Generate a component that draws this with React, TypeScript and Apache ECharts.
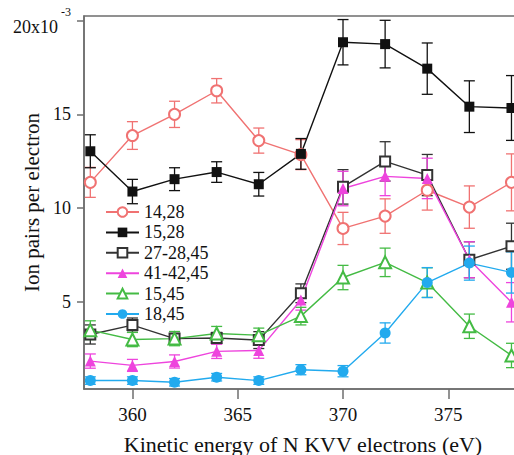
import React, { useEffect, useRef } from "react";
import * as echarts from "echarts";

const energies = [358, 360, 362, 364, 366, 368, 370, 372, 374, 376, 378];

const s14_28 = [11.37, 13.87, 15.0, 16.26, 13.6, 12.85, 8.91, 9.57, 10.95, 10.05, 11.37];
const e14_28 = [0.8, 0.74, 0.7, 0.65, 0.67, 0.8, 0.86, 0.92, 1.06, 1.13, 1.52];

const s15_28 = [13.03, 10.88, 11.54, 11.92, 11.27, 12.89, 18.85, 18.75, 17.44, 15.41, 15.34];
const e15_28 = [0.88, 0.65, 0.61, 0.55, 0.63, 0.82, 1.21, 1.27, 1.37, 1.38, 1.73];

const s27_28_45 = [3.25, 3.75, 3.03, 3.06, 2.95, 5.45, 11.13, 12.49, 11.76, 7.24, 7.96];
const e27_28_45 = [0.51, 0.38, 0.27, 0.3, 0.45, 0.5, 0.92, 1.05, 1.1, 0.96, 1.23];

const s41_42_45 = [1.83, 1.6, 1.81, 2.35, 2.4, 5.09, 11.04, 11.69, 11.58, 7.24, 4.97];
const e41_42_45 = [0.38, 0.32, 0.35, 0.38, 0.42, 0.54, 0.92, 1.03, 1.08, 0.96, 1.05];

const s15_45 = [3.48, 2.98, 3.03, 3.3, 3.21, 4.23, 6.29, 7.1, 6.02, 3.69, 2.13];
const e15_45 = [0.5, 0.38, 0.38, 0.38, 0.38, 0.47, 0.65, 0.76, 0.79, 0.65, 0.65];

const s18_45 = [0.79, 0.79, 0.7, 0.97, 0.79, 1.37, 1.29, 3.33, 6.02, 7.06, 6.56];
const e18_45 = [0.2, 0.2, 0.2, 0.2, 0.2, 0.27, 0.3, 0.54, 0.8, 0.91, 1.1];

const xTicks = [360, 365, 370, 375];
const yTicks = [5, 10, 15, 20];

const seriesDefs = [
  { name: "14,28", values: s14_28, errors: e14_28, color: "#f07272", symbol: "emptyCircle", size: 11 },
  { name: "15,28", values: s15_28, errors: e15_28, color: "#111111", symbol: "rect", size: 10 },
  { name: "27-28,45", values: s27_28_45, errors: e27_28_45, color: "#333333", symbol: "emptyRect", size: 10 },
  { name: "41-42,45", values: s41_42_45, errors: e41_42_45, color: "#ee44dd", symbol: "triangle", size: 11 },
  { name: "15,45", values: s15_45, errors: e15_45, color: "#44bb44", symbol: "emptyTriangle", size: 12 },
  { name: "18,45", values: s18_45, errors: e18_45, color: "#22aaee", symbol: "circle", size: 11 },
];

const FONT = "Liberation Serif";

export default function App() {
  const ref = useRef<HTMLDivElement>(null);
  useEffect(() => {
    if (!ref.current) return;
    const chart = echarts.init(ref.current, undefined, { renderer: "svg" });
    const lineSeries: any[] = seriesDefs.map((d) => ({
      type: "line",
      name: d.name,
      data: energies.map((x, i) => [x, d.values[i]]),
      symbol: d.symbol,
      symbolSize: d.size,
      lineStyle: { color: d.color, width: 1.4 },
      itemStyle: { color: d.color, borderWidth: 1.2 },
      z: 3,
    }));
    const errSeries: any[] = seriesDefs.map((d) => ({
      type: "custom",
      name: "err " + d.name,
      z: 2,
      data: energies.map((x, i) => [x, d.values[i] - d.errors[i], d.values[i] + d.errors[i]]),
      renderItem: (params: any, api: any) => {
        const lo = api.coord([api.value(0), api.value(1)]);
        const hi = api.coord([api.value(0), api.value(2)]);
        const w = 5.5;
        const st = { stroke: d.color, lineWidth: 1.3, fill: "none" };
        return {
          type: "group",
          children: [
            { type: "line", shape: { x1: lo[0], y1: lo[1], x2: hi[0], y2: hi[1] }, style: st },
            { type: "line", shape: { x1: lo[0] - w, y1: lo[1], x2: lo[0] + w, y2: lo[1] }, style: st },
            { type: "line", shape: { x1: hi[0] - w, y1: hi[1], x2: hi[0] + w, y2: hi[1] }, style: st },
          ],
        };
      },
    }));
    chart.setOption({
      animation: false,
      backgroundColor: "#ffffff",
      textStyle: { fontFamily: FONT },
      grid: {
        left: 84,
        top: 16,
        right: 18,
        bottom: 66,
        outerBoundsMode: "none",
        containLabel: false,
        show: true,
        borderColor: "#6e6e6e",
        borderWidth: 1.5,
      },
      legend: {
        data: seriesDefs.map((d) => d.name),
        orient: "vertical",
        left: 105,
        top: 202,
        padding: 0,
        itemWidth: 33,
        itemHeight: 12,
        itemGap: 0.4,
        textStyle: { fontFamily: FONT, fontSize: 18, color: "#111", lineHeight: 20 },
      },
      xAxis: {
        type: "value",
        min: 357.7,
        max: 378.5,
        name: "Kinetic energy of N KVV electrons (eV)",
        nameLocation: "middle",
        nameGap: 44,
        nameMoveOverlap: false,
        nameTextStyle: { fontFamily: FONT, fontSize: 22, color: "#111" },
        axisLine: { show: true, lineStyle: { color: "#6e6e6e", width: 1.5 } },
        axisTick: { show: true, customValues: xTicks, length: 10, inside: false, lineStyle: { color: "#6e6e6e", width: 1.5 } },
        axisLabel: { customValues: xTicks, margin: 16, fontFamily: FONT, fontSize: 19, color: "#111" },
        splitLine: { show: false },
      },
      yAxis: {
        type: "value",
        min: 0.34,
        max: 20.25,
        name: "Ion pairs per electron",
        nameLocation: "middle",
        nameGap: 42,
        nameMoveOverlap: false,
        nameTextStyle: { fontFamily: FONT, fontSize: 21, color: "#111" },
        axisLine: { show: true, lineStyle: { color: "#6e6e6e", width: 1.5 } },
        axisTick: { show: true, customValues: yTicks, length: 7, inside: false, lineStyle: { color: "#6e6e6e", width: 1.5 } },
        axisLabel: {
          customValues: yTicks,
          margin: 13,
          fontFamily: FONT,
          fontSize: 18,
          color: "#111",
          formatter: (v: number) => (v === 20 ? "{a|20x10}{s|-3}" : String(v)),
          rich: {
            a: { fontFamily: FONT, fontSize: 18, color: "#111", lineHeight: 20, verticalAlign: "bottom" },
            s: { fontFamily: FONT, fontSize: 12, color: "#111", lineHeight: 30, verticalAlign: "top", padding: [0, 0, 0, 3] },
          },
        },
        splitLine: { show: false },
      },
      series: [...errSeries, ...lineSeries],
    });
    return () => chart.dispose();
  }, []);
  return (
    <div style={{ position: "absolute", left: 0, top: 0, width: 514, height: 455, overflow: "hidden", background: "#fff" }}>
      <div ref={ref} style={{ width: 540, height: 455 }} />
    </div>
  );
}
